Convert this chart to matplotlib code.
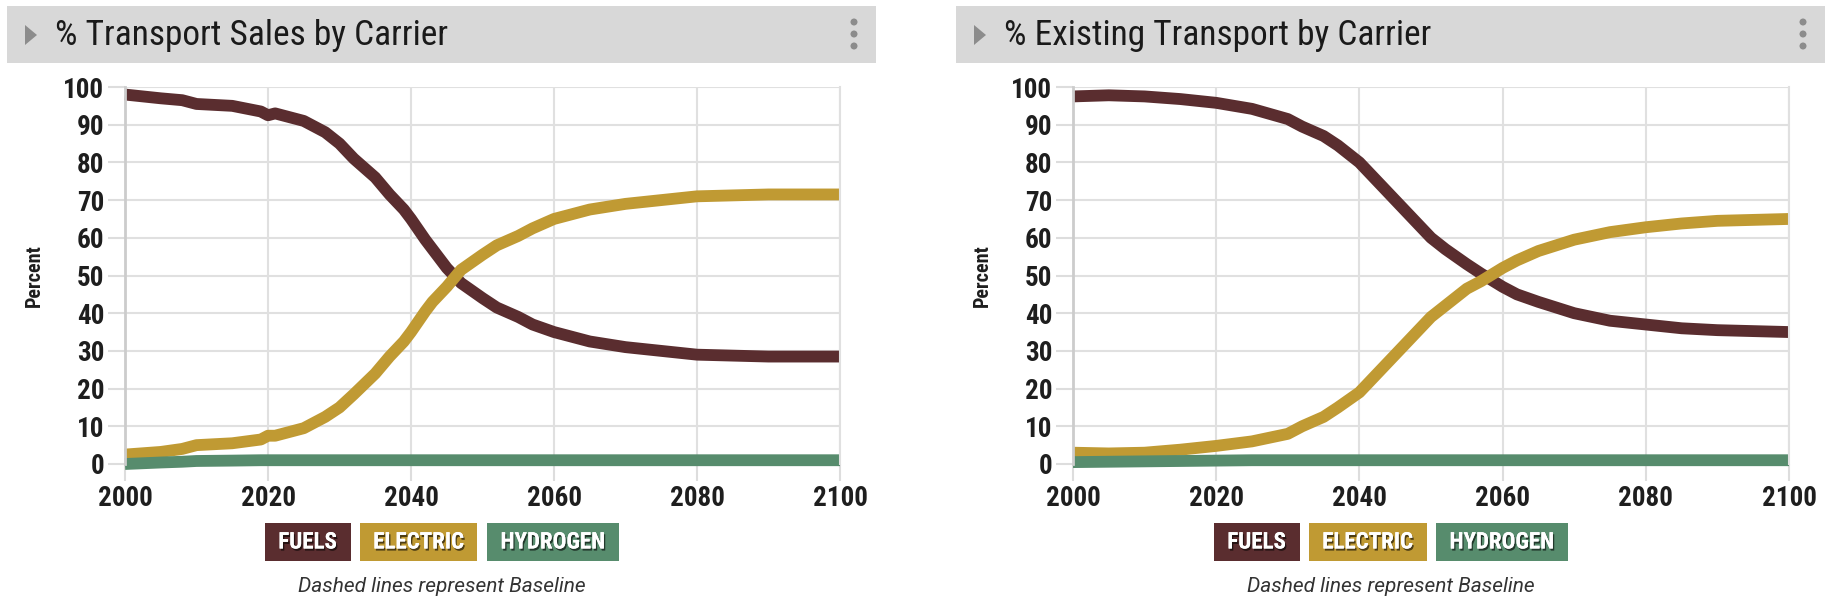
import matplotlib
matplotlib.use("Agg")
import matplotlib.pyplot as plt
from matplotlib import font_manager
from matplotlib.patches import Rectangle, Polygon, Ellipse
import matplotlib.patheffects as pe

names = {f.name for f in font_manager.fontManager.ttflist}
COND = "Roboto"
for cand in ["Roboto Condensed", "Liberation Sans Narrow", "Roboto"]:
    if cand in names:
        COND = cand
        break
REG = "Roboto" if "Roboto" in names else "DejaVu Sans"

# ---------------- data ----------------
years = [2000, 2005, 2008, 2010, 2015, 2019, 2020, 2021, 2025, 2028, 2030, 2032, 2035,
         2037, 2039, 2040, 2042, 2043, 2045, 2047, 2050, 2052, 2055, 2057, 2060, 2065,
         2070, 2080, 2090, 2100]
sales_fuels = [98, 97, 96.5, 95.5, 95, 93.5, 92.5, 93, 91, 88, 85, 81, 76,
               71.5, 67.5, 65, 59.5, 57, 52, 48, 44, 41.5, 39, 37, 35, 32.5,
               31, 29, 28.5, 28.5]
sales_electric = [2.5, 3.2, 4, 5, 5.5, 6.5, 7.5, 7.5, 9.5, 12.5, 15, 18.5, 24,
                  28.5, 32.5, 35, 40.5, 43, 47, 51.5, 55.5, 58, 60.5, 62.5, 65, 67.5,
                  69, 71, 71.5, 71.5]
sales_hydrogen = [0, 0.4, 0.6, 0.8, 0.9, 1, 1, 1, 1, 1, 1, 1, 1,
                  1, 1, 1, 1, 1, 1, 1, 1, 1, 1, 1, 1, 1,
                  1, 1, 1, 1]

years2 = [2000, 2005, 2010, 2015, 2020, 2025, 2030, 2032, 2035, 2037, 2040, 2042,
          2045, 2047, 2050, 2052, 2055, 2057, 2060, 2062, 2065, 2070, 2075, 2080,
          2085, 2090, 2100]
exist_fuels = [97.5, 97.8, 97.5, 96.8, 95.8, 94.2, 91.5, 89.5, 87, 84.5, 80, 76,
               70, 66, 60, 57, 53, 50.5, 47, 45, 43, 40, 38, 37,
               36, 35.5, 35]
exist_electric = [3, 2.8, 3, 3.8, 4.8, 6, 8, 10, 12.5, 15, 19, 23,
                  29, 33, 39, 42, 46.5, 48.5, 52, 54, 56.5, 59.5, 61.5, 62.8,
                  63.8, 64.5, 65]
exist_hydrogen = [0.5, 0.6, 0.7, 0.8, 0.9, 1, 1, 1, 1, 1, 1, 1,
                  1, 1, 1, 1, 1, 1, 1, 1, 1, 1, 1, 1,
                  1, 1, 1]

titles = ["% Transport Sales by Carrier", "% Existing Transport by Carrier"]
series_names = ["FUELS", "ELECTRIC", "HYDROGEN"]
colors = ["#5a2d2f", "#c09a33", "#578c6d"]
xticks = [2000, 2020, 2040, 2060, 2080, 2100]
yticks = list(range(0, 101, 10))
ylabel = "Percent"
footnote = "Dashed lines represent Baseline"

W, H = 1834, 606
fig = plt.figure(figsize=(W / 100, H / 100), dpi=100)
fig.patch.set_facecolor("white")


def fx(px):
    return px / W


def fy(py):
    return 1 - py / H


panels = [
    dict(x0=7, x1=876, ax0=125, ax1=840, years=years,
         data=[sales_fuels, sales_electric, sales_hydrogen]),
    dict(x0=956, x1=1825, ax0=1073, ax1=1789, years=years2,
         data=[exist_fuels, exist_electric, exist_hydrogen]),
]
legend_w = [86, 118, 132]
gap = 9

for p, title in zip(panels, titles):
    # header bar
    fig.patches.append(Rectangle((fx(p["x0"]), fy(63)), fx(p["x1"] - p["x0"]), 57 / H,
                                 transform=fig.transFigure, facecolor="#d8d8d8",
                                 edgecolor="none"))
    tx = p["x0"] + 18
    fig.patches.append(Polygon([(fx(tx), fy(25)), (fx(tx), fy(45)), (fx(tx + 12), fy(35))],
                               closed=True, transform=fig.transFigure,
                               facecolor="#8c8c8c", edgecolor="none"))
    fig.text(fx(p["x0"] + 48), fy(35), title, fontsize=25.5, family=COND,
             color="#1a1a1a", ha="left", va="center")
    dx = p["x1"] - 22
    for dy in (22, 34, 46):
        fig.patches.append(Ellipse((fx(dx), fy(dy)), 7 / W, 7 / H, transform=fig.transFigure,
                                   facecolor="#8c8c8c", edgecolor="none"))

    # axes
    ax = fig.add_axes([fx(p["ax0"]), fy(464), fx(p["ax1"] - p["ax0"]), (464 - 87) / H])
    for vals, c in zip(p["data"], colors):
        ax.plot(p["years"], vals, color=c, lw=8.5, solid_capstyle="butt",
                solid_joinstyle="round", clip_on=False)
    ax.set_xlim(2000, 2100)
    ax.set_ylim(0, 100)
    ax.set_xticks(xticks)
    ax.set_yticks(yticks)
    ax.grid(True, color="#e0e0e0", lw=1.5)
    ax.set_axisbelow(True)
    for s in ["top", "bottom"]:
        ax.spines[s].set_visible(False)
    ax.spines["right"].set_color("#e0e0e0")
    ax.spines["right"].set_linewidth(1.5)
    ax.spines["left"].set_color("#cccccc")
    ax.spines["left"].set_linewidth(2)
    ax.tick_params(axis="both", length=12, width=1.5, color="#dddddd",
                   labelsize=19.5, labelcolor="#1e1e1e", pad=3)
    for lab in ax.get_xticklabels() + ax.get_yticklabels():
        lab.set_family(COND)
        lab.set_fontweight("bold")
    ax.set_ylabel(ylabel, fontsize=14.5, family=COND, fontweight="bold", color="#1e1e1e",
                  labelpad=14)

    # legend chips
    center = (p["x0"] + p["x1"]) / 2
    total = sum(legend_w) + gap * 2
    lx = center - total / 2
    for name, c, w in zip(series_names, colors, legend_w):
        fig.patches.append(Rectangle((fx(lx), fy(561)), fx(w), 38 / H,
                                     transform=fig.transFigure, facecolor=c,
                                     edgecolor="none"))
        fig.text(fx(lx + w / 2), fy(542), name, fontsize=16.5, family=COND,
                 fontweight="bold", color="white", ha="center", va="center",
                 path_effects=[pe.withSimplePatchShadow(offset=(1, -1.5),
                                                        shadow_rgbFace="#000000",
                                                        alpha=0.6),
                               pe.Normal()])
        lx += w + gap
    fig.text(fx(center), fy(586), footnote, fontsize=15, family=REG, style="italic",
             color="#333333", ha="center", va="center")

fig.savefig("out.png", dpi=100)
